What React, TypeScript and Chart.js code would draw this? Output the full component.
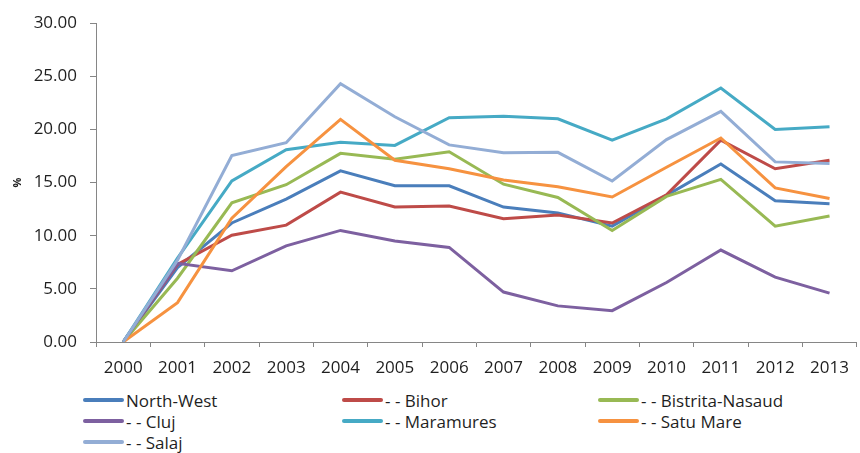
import React, { useEffect, useRef } from "react";
import { Chart, registerables } from "chart.js";

Chart.register(...registerables);

const years = ["2000", "2001", "2002", "2003", "2004", "2005", "2006", "2007", "2008", "2009", "2010", "2011", "2012", "2013"];

const northWest = [0, 7.0, 11.2, 13.45, 16.1, 14.7, 14.7, 12.7, 12.15, 10.9, 13.8, 16.75, 13.3, 13.0];
const bihor = [0, 7.3, 10.05, 11.0, 14.1, 12.7, 12.8, 11.6, 11.95, 11.2, 13.85, 19.0, 16.3, 17.1];
const bistritaNasaud = [0, 6.0, 13.1, 14.8, 17.75, 17.2, 17.9, 14.85, 13.6, 10.5, 13.7, 15.3, 10.9, 11.85];
const cluj = [0, 7.4, 6.7, 9.05, 10.5, 9.5, 8.9, 4.7, 3.4, 2.95, 5.6, 8.65, 6.1, 4.6];
const maramures = [0, 7.9, 15.15, 18.1, 18.8, 18.5, 21.1, 21.25, 21.0, 19.0, 21.0, 23.9, 20.0, 20.25];
const satuMare = [0, 3.7, 11.65, 16.5, 20.95, 17.1, 16.3, 15.25, 14.6, 13.65, 16.45, 19.2, 14.5, 13.5];
const salaj = [0, 7.7, 17.55, 18.75, 24.3, 21.2, 18.55, 17.8, 17.85, 15.15, 19.05, 21.7, 16.95, 16.8];

const seriesNames = ["North-West", "- - Bihor", "- - Bistrita-Nasaud", "- - Cluj", "- - Maramures", "- - Satu Mare", "- - Salaj"];
const seriesValues = [northWest, bihor, bistritaNasaud, cluj, maramures, satuMare, salaj];
const seriesColors = ["#4A7EBB", "#BE4B48", "#98B954", "#7D60A0", "#46AAC5", "#F69240", "#93ADD5"];

const yTicks = [0, 5, 10, 15, 20, 25, 30];

const FONT = "'Open Sans', 'Liberation Sans', sans-serif";
const AXIS_COLOR = "#868686";
const TEXT_COLOR = "#1f1f1f";

const CANVAS_W = 860;
const CANVAS_H = 380;

export default function App() {
  const canvasRef = useRef<HTMLCanvasElement | null>(null);

  useEffect(() => {
    const canvas = canvasRef.current;
    if (!canvas) return;
    const chart = new Chart(canvas, {
      type: "line",
      data: {
        labels: years,
        datasets: seriesNames.map((name, i) => ({
          label: name,
          data: seriesValues[i],
          borderColor: seriesColors[i],
          backgroundColor: seriesColors[i],
          borderWidth: 3,
          pointRadius: 0,
          pointHoverRadius: 0,
          tension: 0,
          fill: false,
          order: seriesNames.length - i,
        })),
      },
      options: {
        responsive: false,
        animation: false,
        devicePixelRatio: 1,
        layout: { padding: { left: 0, right: 1, top: 17, bottom: 0 } },
        plugins: {
          legend: { display: false },
          tooltip: { enabled: false },
          title: { display: false },
        },
        scales: {
          x: {
            type: "category",
            offset: true,
            grid: {
              offset: true,
              drawOnChartArea: false,
              drawTicks: true,
              tickLength: 5,
              color: AXIS_COLOR,
            },
            border: { color: AXIS_COLOR, width: 1 },
            ticks: {
              color: TEXT_COLOR,
              font: { family: FONT, size: 17 },
              padding: 11,
              maxRotation: 0,
              autoSkip: false,
            },
            afterFit: (s: any) => {
              s.height = CANVAS_H - 342;
            },
          },
          y: {
            min: 0,
            max: 30,
            afterBuildTicks: (s: any) => {
              s.ticks = yTicks.map((v) => ({ value: v }));
            },
            grid: {
              drawOnChartArea: false,
              drawTicks: true,
              tickLength: 6,
              color: AXIS_COLOR,
            },
            border: { color: AXIS_COLOR, width: 1 },
            ticks: {
              color: TEXT_COLOR,
              font: { family: FONT, size: 17 },
              padding: 13,
              callback: (v: any) => Number(v).toFixed(2),
            },
            title: {
              display: true,
              text: "%",
              color: TEXT_COLOR,
              font: { family: FONT, size: 11, weight: "bold" },
              padding: { top: 11, bottom: 0 },
            },
            afterFit: (s: any) => {
              s.width = 96;
            },
          },
        },
      },
    });
    return () => chart.destroy();
  }, []);

  const legendCols = [83, 342, 598];
  const legendRows = [400, 421, 442];

  return (
    <div style={{ position: "absolute", left: 0, top: 0, width: 860, height: 453, background: "#fff" }}>
      <canvas
        ref={canvasRef}
        width={CANVAS_W}
        height={CANVAS_H}
        style={{ position: "absolute", left: 0, top: 0, width: CANVAS_W, height: CANVAS_H }}
      />
      {seriesNames.map((name, i) => {
        const col = i % 3;
        const row = Math.floor(i / 3);
        return (
          <div
            key={name}
            style={{
              position: "absolute",
              left: legendCols[col],
              top: legendRows[row] - 11,
              height: 22,
              display: "flex",
              alignItems: "center",
              fontFamily: FONT,
              fontSize: 17,
              color: TEXT_COLOR,
              whiteSpace: "nowrap",
            }}
          >
            <span
              style={{
                display: "inline-block",
                width: 41,
                height: 4,
                borderRadius: 2,
                background: seriesColors[i],
                marginRight: 2,
              }}
            />
            <span>{name}</span>
          </div>
        );
      })}
    </div>
  );
}
